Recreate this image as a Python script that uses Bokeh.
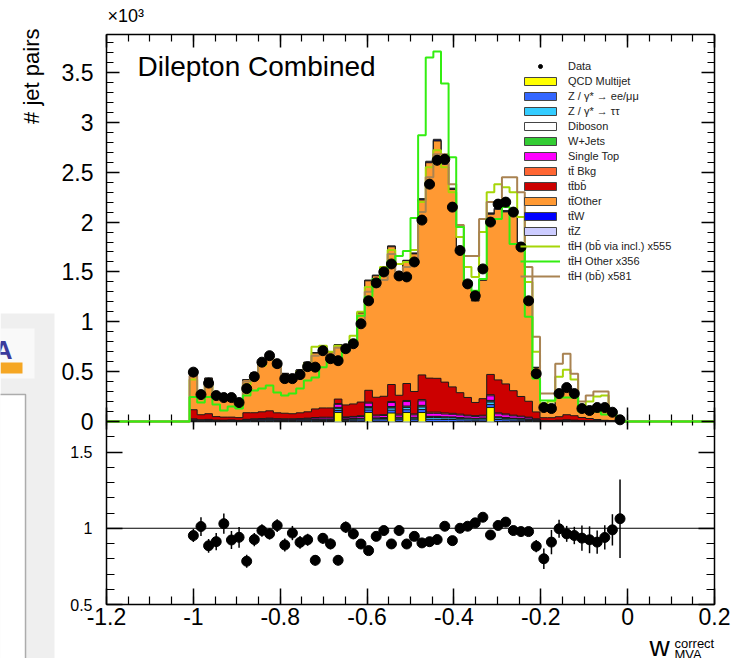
import numpy as np
from bokeh.plotting import figure
from bokeh.models import (Range1d, LinearAxis, FixedTicker, Label, BoxAnnotation,
                          Legend, LegendItem)
from bokeh.core.properties import value
from bokeh.embed import file_html
from bokeh.resources import INLINE

# ---------------- data: jet pairs per bin, in units of 10^3 ----------------
FIRST_CENTER = -1.0
BIN_WIDTH = 1.0 / 57

data = [0.495, 0.27, 0.385, 0.26, 0.24, 0.24, 0.19, 0.33, 0.45, 0.595,
        0.66, 0.58, 0.43, 0.43, 0.47, 0.55, 0.545, 0.71, 0.63, 0.61,
        0.73, 0.78, 0.98, 1.21, 1.39, 1.5, 1.58, 1.46, 1.45, 1.6,
        2.02, 2.38, 2.62, 2.63, 2.15, 1.715, 1.38, 1.26, 1.53, 2.0,
        2.18, 2.2, 2.1, 1.75, 1.21, 0.48, 0.14, 0.13, 0.28, 0.34,
        0.28, 0.13, 0.11, 0.14, 0.14, 0.093, 0.017]

qcd_multijet = [0, 0, 0, 0, 0, 0, 0, 0, 0, 0,
                0, 0, 0, 0, 0, 0, 0, 0, 0, 0.09,
                0, 0, 0, 0.09, 0, 0, 0.085, 0, 0.09, 0,
                0.09, 0, 0, 0, 0, 0, 0, 0, 0, 0.14,
                0, 0, 0, 0, 0, 0, 0, 0, 0, 0,
                0, 0, 0, 0, 0, 0, 0]
z_ee_mumu = [0.006, 0.004, 0.005, 0.003, 0.003, 0.004, 0.003, 0.005, 0.006, 0.007,
             0.008, 0.006, 0.006, 0.006, 0.007, 0.008, 0.009, 0.01, 0.01, 0.02,
             0.011, 0.012, 0.014, 0.025, 0.016, 0.017, 0.028, 0.018, 0.028, 0.018,
             0.03, 0.022, 0.022, 0.02, 0.02, 0.017, 0.015, 0.013, 0.015, 0.03,
             0.02, 0.017, 0.014, 0.012, 0.01, 0.006, 0.003, 0.002, 0.003, 0.004,
             0.003, 0.002, 0.002, 0.002, 0.002, 0.001, 0.0]
z_tautau = [0.004, 0.003, 0.004, 0.003, 0.002, 0.003, 0.002, 0.004, 0.005, 0.005,
            0.006, 0.005, 0.005, 0.005, 0.005, 0.006, 0.007, 0.008, 0.008, 0.018,
            0.009, 0.01, 0.011, 0.02, 0.012, 0.013, 0.022, 0.014, 0.022, 0.014,
            0.025, 0.018, 0.018, 0.016, 0.016, 0.014, 0.012, 0.011, 0.012, 0.025,
            0.016, 0.014, 0.012, 0.01, 0.008, 0.005, 0.002, 0.002, 0.002, 0.003,
            0.002, 0.002, 0.001, 0.001, 0.001, 0.001, 0.0]
diboson = [0.002, 0.001, 0.002, 0.001, 0.001, 0.001, 0.001, 0.002, 0.002, 0.002,
           0.003, 0.002, 0.002, 0.002, 0.002, 0.003, 0.003, 0.003, 0.003, 0.006,
           0.003, 0.004, 0.004, 0.006, 0.004, 0.005, 0.007, 0.005, 0.007, 0.005,
           0.008, 0.006, 0.006, 0.006, 0.005, 0.005, 0.004, 0.004, 0.004, 0.008,
           0.006, 0.005, 0.004, 0.004, 0.003, 0.002, 0.001, 0.001, 0.001, 0.001,
           0.001, 0.001, 0.0, 0.0, 0.0, 0.0, 0.0]
w_jets = [0.002, 0.001, 0.001, 0.001, 0.001, 0.001, 0.001, 0.001, 0.002, 0.002,
          0.002, 0.002, 0.002, 0.002, 0.002, 0.002, 0.003, 0.003, 0.003, 0.008,
          0.003, 0.003, 0.004, 0.008, 0.004, 0.004, 0.008, 0.005, 0.008, 0.005,
          0.009, 0.006, 0.006, 0.005, 0.005, 0.005, 0.004, 0.004, 0.004, 0.009,
          0.005, 0.005, 0.004, 0.003, 0.003, 0.002, 0.001, 0.001, 0.001, 0.001,
          0.001, 0.0, 0.0, 0.0, 0.0, 0.0, 0.0]
single_top = [0.008, 0.005, 0.006, 0.004, 0.004, 0.004, 0.003, 0.007, 0.008, 0.009,
              0.01, 0.009, 0.008, 0.008, 0.009, 0.01, 0.012, 0.013, 0.013, 0.03,
              0.014, 0.015, 0.017, 0.035, 0.02, 0.021, 0.04, 0.022, 0.045, 0.024,
              0.045, 0.03, 0.03, 0.028, 0.026, 0.024, 0.021, 0.019, 0.02, 0.045,
              0.03, 0.026, 0.022, 0.018, 0.014, 0.008, 0.003, 0.003, 0.004, 0.005,
              0.004, 0.003, 0.002, 0.002, 0.002, 0.001, 0.0]
ttbar_bkg = [0.004, 0.003, 0.003, 0.002, 0.002, 0.002, 0.002, 0.003, 0.004, 0.004,
             0.005, 0.004, 0.004, 0.004, 0.004, 0.005, 0.006, 0.006, 0.006, 0.008,
             0.007, 0.007, 0.008, 0.01, 0.009, 0.009, 0.011, 0.01, 0.011, 0.01,
             0.013, 0.012, 0.012, 0.011, 0.01, 0.009, 0.008, 0.008, 0.008, 0.012,
             0.01, 0.009, 0.008, 0.007, 0.006, 0.003, 0.001, 0.001, 0.002, 0.002,
             0.002, 0.001, 0.001, 0.001, 0.001, 0.0, 0.0]
ttbar_bb = [0.092, 0.051, 0.057, 0.035, 0.031, 0.029, 0.027, 0.066, 0.061, 0.068,
            0.073, 0.059, 0.056, 0.051, 0.058, 0.063, 0.086, 0.093, 0.093, 0.045,
            0.119, 0.125, 0.137, 0.119, 0.178, 0.184, 0.17, 0.189, 0.17, 0.225,
            0.247, 0.341, 0.339, 0.309, 0.265, 0.215, 0.177, 0.132, 0.166, 0.203,
            0.33, 0.301, 0.245, 0.197, 0.159, 0.07, 0.027, 0.028, 0.035, 0.052,
            0.045, 0.031, 0.024, 0.014, 0.006, 0.005, 0.004]
ttbar_other = [0.40, 0.197, 0.355, 0.235, 0.188, 0.215, 0.162, 0.331, 0.396, 0.504,
               0.575, 0.48, 0.398, 0.364, 0.428, 0.495, 0.56, 0.62, 0.562, 0.542,
               0.555, 0.63, 0.893, 1.098, 1.218, 1.263, 1.381, 1.212, 1.227, 1.38,
               1.755, 2.16, 2.38, 2.186, 1.98, 1.415, 1.112, 1.017, 1.187, 1.607,
               1.711, 1.725, 1.812, 1.529, 1.027, 0.444, 0.135, 0.103, 0.231, 0.283,
               0.234, 0.099, 0.089, 0.134, 0.137, 0.086, 0.012]
ttbar_w = [0.001, 0.001, 0.001, 0.001, 0.001, 0.001, 0.001, 0.001, 0.001, 0.002,
           0.002, 0.002, 0.001, 0.001, 0.002, 0.002, 0.002, 0.002, 0.002, 0.003,
           0.002, 0.002, 0.003, 0.004, 0.004, 0.004, 0.005, 0.004, 0.005, 0.005,
           0.007, 0.008, 0.009, 0.008, 0.007, 0.006, 0.005, 0.005, 0.006, 0.007,
           0.007, 0.007, 0.006, 0.005, 0.004, 0.002, 0.001, 0.001, 0.001, 0.001,
           0.001, 0.0, 0.0, 0.0, 0.0, 0.0, 0.0]
ttbar_z = [0.001, 0.001, 0.001, 0.0, 0.0, 0.0, 0.0, 0.001, 0.001, 0.001,
           0.001, 0.001, 0.001, 0.001, 0.001, 0.001, 0.002, 0.002, 0.002, 0.002,
           0.002, 0.002, 0.002, 0.003, 0.003, 0.003, 0.004, 0.003, 0.004, 0.004,
           0.006, 0.007, 0.008, 0.007, 0.006, 0.005, 0.004, 0.004, 0.005, 0.006,
           0.006, 0.006, 0.005, 0.004, 0.003, 0.002, 0.001, 0.001, 0.001, 0.001,
           0.001, 0.0, 0.0, 0.0, 0.0, 0.0, 0.0]

tth_bb_incl_x555 = [0.42, 0.28, 0.36, 0.25, 0.22, 0.24, 0.19, 0.37, 0.44, 0.56,
                    0.63, 0.55, 0.44, 0.43, 0.5, 0.58, 0.75, 0.76, 0.7, 0.76,
                    0.74, 0.86, 1.1, 1.35, 1.42, 1.55, 1.72, 1.58, 1.6, 1.72,
                    2.2, 2.55, 2.72, 2.55, 2.3, 1.85, 1.55, 1.45, 1.9, 2.3,
                    2.38, 2.35, 2.3, 2.05, 1.4, 0.7, 0.18, 0.2, 0.45, 0.52,
                    0.42, 0.16, 0.2, 0.25, 0.26, 0.08, 0.02]
tth_other_x356 = [0.245, 0.19, 0.245, 0.17, 0.11, 0.15, 0.13, 0.26, 0.31, 0.33,
                  0.36, 0.29, 0.26, 0.28, 0.33, 0.41, 0.44, 0.545, 0.645, 0.6,
                  0.71, 0.81, 1.06, 1.25, 1.43, 1.53, 1.61, 1.66, 1.71, 2.04,
                  2.87, 3.65, 3.71, 3.39, 2.65, 1.95, 1.41, 1.31, 1.43, 2.03,
                  2.03, 2.15, 1.78, 1.78, 1.05, 0.43, 0.21, 0.21, 0.24, 0.24,
                  0.24, 0.1, 0.1, 0.1, 0.07, 0.07, 0.03]
tth_bb_x581 = [0.46, 0.3, 0.38, 0.27, 0.24, 0.25, 0.2, 0.4, 0.46, 0.58,
               0.66, 0.55, 0.45, 0.42, 0.49, 0.56, 0.66, 0.72, 0.66, 0.74,
               0.7, 0.78, 1.0, 1.3, 1.35, 1.42, 1.68, 1.5, 1.55, 1.62,
               2.1, 2.45, 2.68, 2.68, 2.38, 1.97, 1.66, 1.66, 2.03, 2.2,
               2.2, 2.45, 2.45, 2.3, 1.55, 0.85, 0.28, 0.28, 0.58, 0.68,
               0.48, 0.2, 0.26, 0.3, 0.3, 0.1, 0.03]

stack_series = [qcd_multijet, z_ee_mumu, z_tautau, diboson, w_jets, single_top,
                ttbar_bkg, ttbar_bb, ttbar_other, ttbar_w, ttbar_z]
stack_labels = ["QCD Multijet", "Z / \u03b3* \u2192 ee/\u03bc\u03bc", "Z / \u03b3* \u2192 \u03c4\u03c4",
                "Diboson", "W+Jets", "Single Top", "tt\u0304 Bkg", "tt\u0304bb\u0304",
                "tt\u0304Other", "tt\u0304W", "tt\u0304Z"]
stack_colors = ["#ffff00", "#3366ff", "#33ccff", "#ffffff", "#33cc33", "#ff00ff",
                "#ff6633", "#cc0000", "#ff9933", "#0000ff", "#ccccff"]

signal_series = [tth_bb_incl_x555, tth_other_x356, tth_bb_x581]
signal_labels = ["tt\u0304H (bb\u0304 via incl.) x555", "tt\u0304H Other x356", "tt\u0304H (bb\u0304) x581"]
signal_colors = ["#a6d608", "#33ee11", "#a98352"]

x_major_ticks = [-1.2, -1.0, -0.8, -0.6, -0.4, -0.2, 0.0, 0.2]
y_major_ticks = [0, 0.5, 1, 1.5, 2, 2.5, 3, 3.5]
ratio_major_ticks = [0.5, 1, 1.5]

# ---------------- layout constants (pixels) ----------------
W, H = 735, 658
FL, FR, FT, FB = 106, 714, 34, 604      # plot box
SPLIT = 421                             # boundary between the two panels
X_MIN, X_MAX = -1.2, 0.2
TOP_MAX = 3.881
R_MIN, R_MAX = 0.5, 1.7
FONT = "Liberation Sans"

x_u = (X_MAX - X_MIN) / (FR - FL)
top_u = TOP_MAX / (SPLIT - FT)
r_u = (R_MAX - R_MIN) / (FB - SPLIT)

# the plotting frame covers the whole canvas; the ranges are stretched so
# that the two panels land on the wanted pixels
p = figure(width=W, height=H,
           x_range=Range1d(X_MIN - FL * x_u, X_MAX + (W - FR) * x_u),
           y_range=Range1d(-(H - SPLIT) * top_u, TOP_MAX + FT * top_u),
           x_axis_location=None, y_axis_location=None, toolbar_location=None,
           output_backend="svg", min_border=0, min_border_left=0, min_border_right=0,
           min_border_top=0, min_border_bottom=0)
p.extra_y_ranges = {"ratio": Range1d(R_MIN - (H - FB) * r_u, R_MIN + FB * r_u)}
p.grid.visible = False
p.outline_line_color = None
p.background_fill_color = "white"
p.border_fill_color = "white"

x_minor = [round(-1.2 + 0.05 * i, 3) for i in range(29)]
y_minor = [round(0.1 * i, 2) for i in range(39)]
r_minor = [round(0.5 + 0.1 * i, 2) for i in range(13)]


def add_axis(side, ticks, minor, bounds, fixed, yname="default", labels=False,
             font="23px", standoff=13, major_in=13, minor_in=7, line=True, level=None):
    ax = LinearAxis(ticker=FixedTicker(ticks=ticks, minor_ticks=minor), bounds=bounds,
                    y_range_name=yname, fixed_location=fixed,
                    major_tick_in=major_in, major_tick_out=0,
                    minor_tick_in=minor_in, minor_tick_out=0,
                    axis_line_width=1.5, axis_line_color="black" if line else None,
                    major_tick_line_width=1.5, minor_tick_line_width=1.2,
                    major_tick_line_color="black", minor_tick_line_color="black")
    if labels:
        ax.major_label_overrides = {t: f"{t:g}" for t in ticks}
        ax.major_label_text_font_size = font
        ax.major_label_text_font = FONT
        ax.major_label_text_color = "black"
        ax.major_label_standoff = standoff
    else:
        ax.major_label_text_font_size = "0px"
        ax.major_label_text_alpha = 0
        ax.major_label_standoff = 0
    if level:
        ax.level = level
    p.add_layout(ax, side)
    return ax


xb = (X_MIN, X_MAX)
# x axis of the ratio panel, with labels
add_axis("below", x_major_ticks, x_minor, xb, R_MIN, yname="ratio", labels=True,
         font="23px", standoff=3, major_in=16, minor_in=8)
# x axis at the bottom of the upper panel (ticks up, under the histograms)
add_axis("below", x_major_ticks, x_minor, xb, 0, major_in=14, minor_in=7, level="underlay")
# top edge of the upper panel
add_axis("above", x_major_ticks, x_minor, xb, TOP_MAX, major_in=13, minor_in=7)
# top edge of the ratio panel (ticks down)
add_axis("above", x_major_ticks, x_minor, xb, R_MAX, yname="ratio", major_in=8, minor_in=4, line=False)
# left axes
add_axis("left", y_major_ticks, y_minor, (0, TOP_MAX), X_MIN, labels=True, font="23px", standoff=13)
add_axis("left", ratio_major_ticks, r_minor, (R_MIN, R_MAX), X_MIN, yname="ratio",
         labels=True, font="16px", standoff=14, major_in=16, minor_in=8)
# right axes
add_axis("right", y_major_ticks, y_minor, (0, TOP_MAX), X_MAX)
add_axis("right", ratio_major_ticks, r_minor, (R_MIN, R_MAX), X_MAX, yname="ratio",
         major_in=16, minor_in=8)

# ---------------- histograms ----------------
n = len(data)
centers = FIRST_CENTER + BIN_WIDTH * np.arange(n)
edges = np.append(centers - BIN_WIDTH / 2, centers[-1] + BIN_WIDTH / 2)
step_x = np.repeat(edges, 2)[1:-1]


def step_y(vals):
    return np.repeat(np.asarray(vals, dtype=float), 2)


comps = np.array(stack_series, dtype=float)
cum = np.cumsum(comps, axis=0)
for k in reversed(range(len(comps))):
    ys = step_y(cum[k])
    p.varea(x=step_x, y1=np.zeros_like(ys), y2=ys, fill_color=stack_colors[k])
    p.line(x=np.concatenate([[edges[0]], step_x, [edges[-1]]]),
           y=np.concatenate([[0.0], ys, [0.0]]), line_color="#1a1a1a", line_width=1)

for vals, col in [(signal_series[0], signal_colors[0]), (signal_series[2], signal_colors[2]),
                  (signal_series[1], signal_colors[1])]:
    ys = step_y(vals)
    p.line(x=np.concatenate([[X_MIN, edges[0]], step_x, [edges[-1], X_MAX]]),
           y=np.concatenate([[0.0, 0.0], ys, [0.0, 0.0]]), line_color=col, line_width=2)

d = np.array(data, dtype=float)
d_err = np.sqrt(d * 1000.0) / 1000.0
p.segment(x0=centers, x1=centers, y0=d - d_err, y1=d + d_err, line_color="black", line_width=1.5)
p.scatter(x=centers, y=d, size=10, color="black")

# ---------------- ratio panel ----------------
total = cum[-1]
ratio = d / total
ratio_err = d_err / total
p.line(x=[X_MIN, X_MAX], y=[1.0, 1.0], line_color="black", line_width=1, y_range_name="ratio")
p.segment(x0=centers, x1=centers, y0=ratio - ratio_err, y1=ratio + ratio_err,
          line_color="black", line_width=1.5, y_range_name="ratio")
p.scatter(x=centers, y=ratio, size=10, color="black", y_range_name="ratio")

# ---------------- legend (proxy renderers with no visible data) ----------------
NA = [np.nan]
items = [LegendItem(label=value("Data"),
                    renderers=[p.scatter(x=NA, y=NA, size=10, color="black")])]
for lab, col in zip(stack_labels, stack_colors):
    r = p.quad(left=NA, right=NA, top=NA, bottom=NA, fill_color=col,
               line_color="#444444", line_width=1)
    items.append(LegendItem(label=value(lab), renderers=[r]))
for lab, col in zip(signal_labels, signal_colors):
    r = p.line(x=[np.nan, np.nan], y=[np.nan, np.nan], line_color=col, line_width=2)
    items.append(LegendItem(label=value(lab), renderers=[r]))

legend = Legend(items=items, location=(520, H - 282), padding=0, margin=0, spacing=2,
                glyph_width=40, glyph_height=10, label_height=13, label_standoff=8,
                label_text_font_size="11px", label_text_font=FONT, label_text_color="#222222",
                background_fill_alpha=0, border_line_alpha=0)
p.add_layout(legend)

# ---------------- side artefact of the screenshot (left edge) ----------------
def box(l, r, t, b, **kw):
    p.add_layout(BoxAnnotation(left=l, right=r, top=H - t, bottom=H - b, left_units="screen",
                               right_units="screen", top_units="screen", bottom_units="screen",
                               fill_alpha=1, level="underlay", **kw))


box(0, 54, 313, H, fill_color="#efefef", line_alpha=0)
box(0, 34, 328, 378, fill_color="#f9f9f9", line_alpha=0)
box(0, 22, 362, 373, fill_color="#f5a623", line_alpha=0)
box(-3, 25, 394, H + 3, fill_color="white", line_color="black", line_width=1.5)


# ---------------- texts ----------------
def add_label(text, cx, cy, size, align="left", baseline="top", angle=0.0, color="black",
              style="normal"):
    p.add_layout(Label(x=cx, y=H - cy, x_units="screen", y_units="screen", text=text,
                       text_font=FONT, text_font_size=size, text_align=align,
                       text_baseline=baseline, angle=angle, text_color=color,
                       text_font_style=style))


add_label("A", 12, 334, "26px", align="right", color="#3b3b9c", style="bold")
add_label("Dilepton Combined", 137, 50, "28px")
add_label("\u00d710\u00b3", 107, 5, "18px")
add_label("# jet pairs", 31, 28, "22px", align="right", baseline="middle", angle=np.pi / 2)
add_label("w", 649, 630, "28px", baseline="top")
add_label("correct", 674, 643, "13px", baseline="alphabetic")
add_label("MVA", 674, 646, "13px", baseline="top")

open("out.html", "w").write(file_html(p, INLINE))
